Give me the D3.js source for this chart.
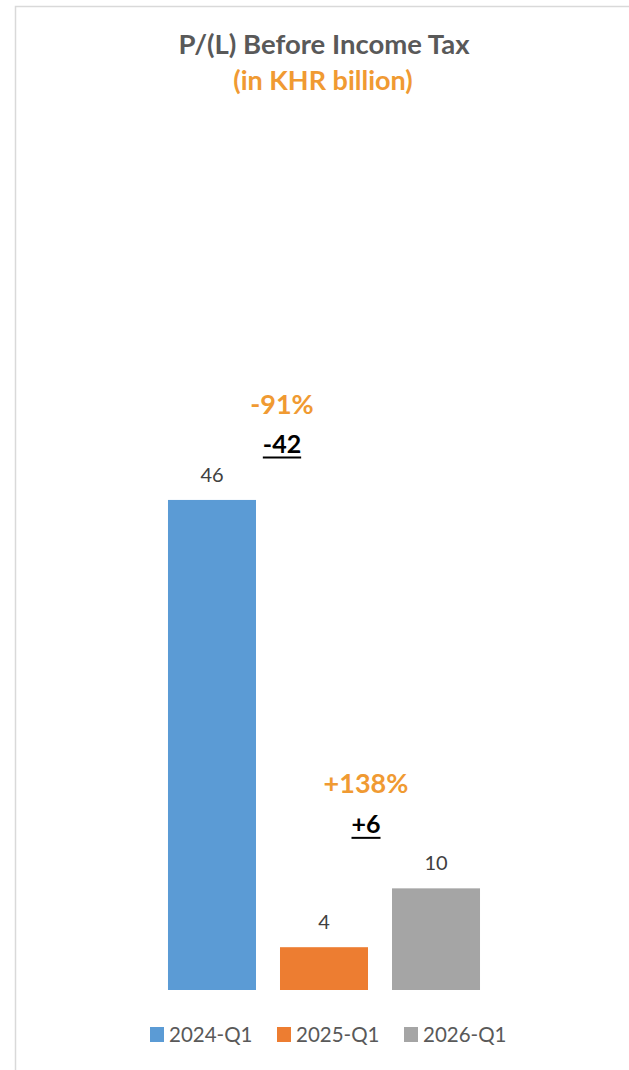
<!DOCTYPE html>
<html>
<head>
<meta charset="utf-8">
<script src="https://cdn.jsdelivr.net/npm/d3@7"></script>
<style>
  body { margin: 0; background: #fff; }
  svg { display: block; font-family: Lato, "Open Sans", sans-serif; }
</style>
</head>
<body>
<svg width="629" height="1070"></svg>
<script>
// data
const categories = ["2024-Q1", "2025-Q1", "2026-Q1"];
const values = [45.8, 4.0, 9.5];
const valueLabels = ["46", "4", "10"];
const colors = ["#5b9bd5", "#ed7d31", "#a5a5a5"];

// change annotations between bars
const changeFrom = [0, 1];
const changeTo = [1, 2];
const changePct = ["-91%", "+138%"];
const changeAbs = ["-42", "+6"];

const svg = d3.select("svg");

// chart border (only left and top edges visible)
svg.append("rect")
    .attr("x", 15.5)
    .attr("y", 6.5)
    .attr("width", 700)
    .attr("height", 1200)
    .attr("fill", "none")
    .attr("stroke", "#d9d9d9")
    .attr("stroke-width", 1.5);

// title
svg.append("text")
    .attr("x", 324)
    .attr("y", 54)
    .attr("text-anchor", "middle")
    .attr("font-size", 27.5)
    .attr("font-weight", "bold")
    .attr("fill", "#595959")
    .text("P/(L) Before Income Tax");

svg.append("text")
    .attr("x", 323)
    .attr("y", 90)
    .attr("text-anchor", "middle")
    .attr("font-size", 27)
    .attr("font-weight", "bold")
    .attr("fill", "#f09a32")
    .text("(in KHR billion)");

const x = d3.scaleBand()
    .domain(categories)
    .range([156, 492])
    .paddingInner(0.2143)
    .paddingOuter(0.107);

const y = d3.scaleLinear()
    .domain([0, 50])
    .range([990, 455]);

const data = categories.map((c, i) => ({cat: c, value: values[i], label: valueLabels[i], color: colors[i]}));

svg.append("g")
    .selectAll("rect")
    .data(data)
    .enter()
    .append("rect")
    .attr("x", d => x(d.cat))
    .attr("y", d => y(d.value))
    .attr("width", x.bandwidth())
    .attr("height", d => y(0) - y(d.value))
    .attr("fill", d => d.color);

svg.append("g")
    .selectAll("text")
    .data(data)
    .enter()
    .append("text")
    .attr("x", d => x(d.cat) + x.bandwidth() / 2)
    .attr("y", d => y(d.value) - 18)
    .attr("text-anchor", "middle")
    .attr("font-size", 20)
    .attr("fill", "#404040")
    .text(d => d.label);

// annotations: pct above, absolute change (underlined) below
const pctOffset = [86, 95];
const absOffset = [47, 55];
const xShift = [14, -14];

changeFrom.forEach((f, i) => {
    const t = changeTo[i];
    const cx = (x(categories[f]) + x(categories[t])) / 2 + x.bandwidth() / 2 + xShift[i];
    const top = y(Math.max(values[f], values[t]));

    svg.append("text")
        .attr("x", cx)
        .attr("y", top - pctOffset[i])
        .attr("text-anchor", "middle")
        .attr("font-size", 27)
        .attr("font-weight", "bold")
        .attr("fill", "#f09a32")
        .text(changePct[i]);

    const abs = svg.append("text")
        .attr("x", cx)
        .attr("y", top - absOffset[i])
        .attr("text-anchor", "middle")
        .attr("font-size", 25)
        .attr("font-weight", "bold")
        .attr("fill", "#000")
        .text(changeAbs[i]);

    const w = abs.node().getComputedTextLength();
    svg.append("line")
        .attr("x1", cx - w / 2)
        .attr("x2", cx + w / 2)
        .attr("y1", top - absOffset[i] + 4.5)
        .attr("y2", top - absOffset[i] + 4.5)
        .attr("stroke", "#000")
        .attr("stroke-width", 2);
});

// legend
const legendX = [150, 277, 404];
const legend = svg.append("g")
    .selectAll("g")
    .data(data)
    .enter()
    .append("g")
    .attr("transform", (d, i) => `translate(${legendX[i]},1027)`);

legend.append("rect")
    .attr("width", 14)
    .attr("height", 15)
    .attr("fill", d => d.color);

legend.append("text")
    .attr("x", 19)
    .attr("y", 15)
    .attr("font-size", 20.5)
    .attr("fill", "#595959")
    .text(d => d.cat);
</script>
</body>
</html>
